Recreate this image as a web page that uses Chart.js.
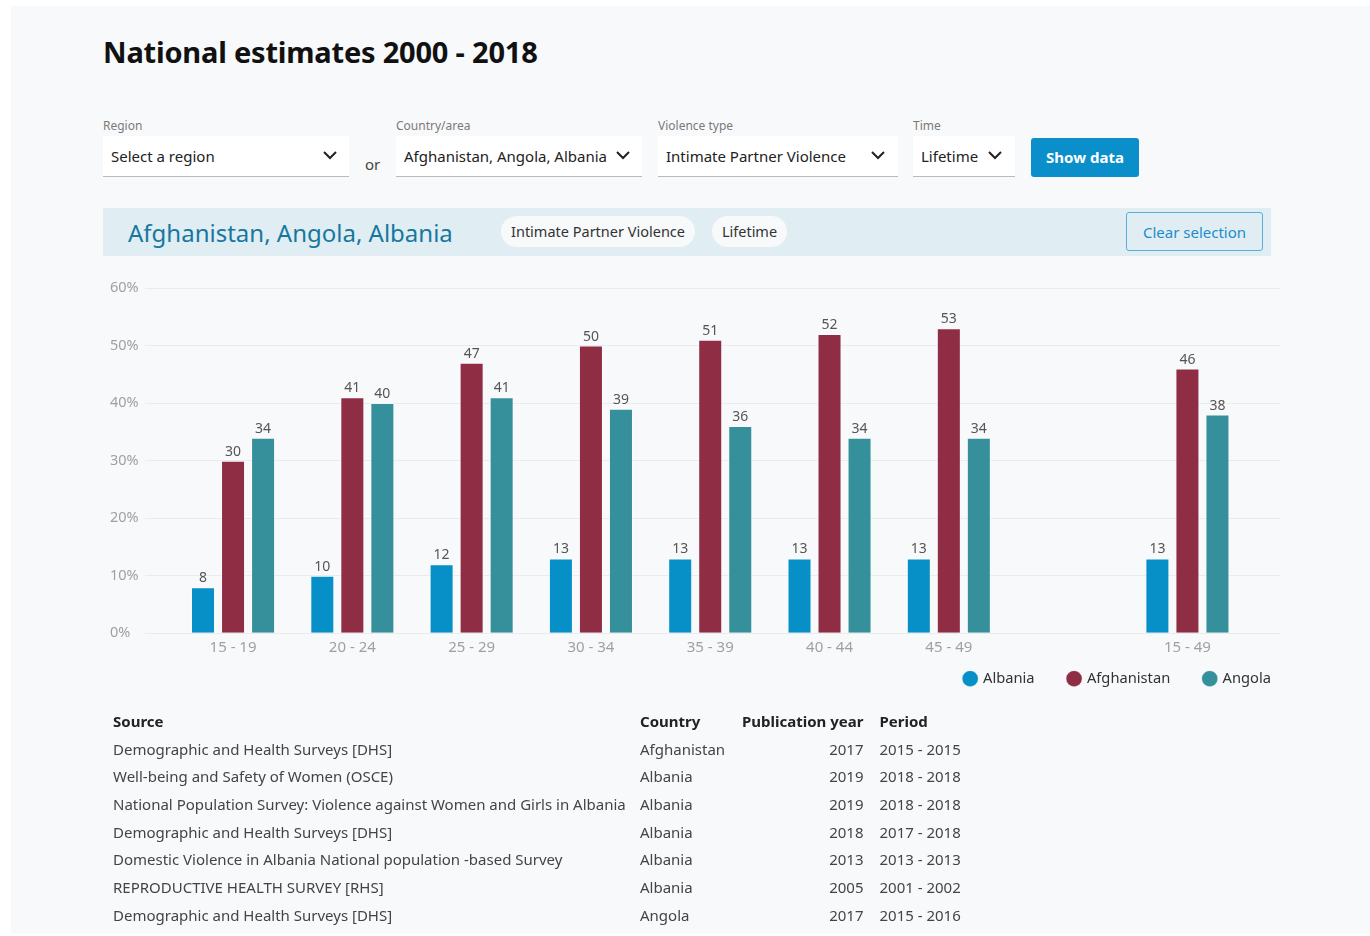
<!DOCTYPE html>
<html>
<head>
<meta charset="utf-8">
<script src="https://cdn.jsdelivr.net/npm/chart.js@4.4.0/dist/chart.umd.min.js"></script>
<style>
  html, body { margin: 0; padding: 0; background: #fff; }
  body { width: 1370px; height: 936px; position: relative; overflow: hidden; font-family: "Noto Sans", sans-serif; color: #333; }
  .card { position: absolute; left: 11px; top: 6px; right: 0; bottom: 2px; background: #f8f9fb; }
  h1 { position: absolute; left: 103px; top: 32px; margin: 0; font-size: 29px; font-weight: 700; color: #111; letter-spacing: -0.2px; }
  .lbl { position: absolute; top: 117px; font-size: 12px; color: #7a7a7a; }
  .sel { position: absolute; top: 136px; height: 41px; background: #fff; border-bottom: 1px solid #b8bcc2; font-size: 15px; color: #222; line-height: 40px; padding-left: 8px; box-sizing: border-box; }
  .sel svg { position: absolute; top: 14px; }
  .or { position: absolute; left: 365px; top: 154px; font-size: 15px; color: #444; }
  .btn { position: absolute; left: 1031px; top: 138px; width: 108px; height: 39px; background: #0a8fcb; color: #fff; font-weight: 700; font-size: 15px; line-height: 39px; text-align: center; border-radius: 3px; }
  .bar { position: absolute; left: 103px; top: 208px; width: 1168px; height: 48px; background: #e0edf3; }
  .bar .t { position: absolute; left: 25px; top: 8px; font-size: 24px; color: #17789f; }
  .pill { position: absolute; top: 8px; height: 31px; line-height: 31px; background: #f7f9fa; border-radius: 16px; font-size: 14.5px; color: #333; text-align: center; }
  .clear { position: absolute; left: 1023px; top: 4px; width: 137px; height: 39px; box-sizing: border-box; border: 1px solid #5aaedb; border-radius: 3px; color: #1e8ccb; font-size: 15px; line-height: 38px; text-align: center; }
  #wrap { position: absolute; left: 100px; top: 278px; width: 1205px; height: 434px; }
  table { position: absolute; left: 107px; top: 707px; border-collapse: collapse; font-size: 15px; color: #444; }
  th { text-align: left; font-weight: 700; color: #222; padding: 0 6px; height: 27.7px; }
  td { padding: 0 6px; height: 27.7px; white-space: nowrap; }
  td.n, th.n { text-align: right; }
  .p { padding-left: 10px; }
</style>
</head>
<body>
<div class="card"></div>
<h1>National estimates 2000 - 2018</h1>

<div class="lbl" style="left:103px">Region</div>
<div class="sel" style="left:103px;width:246px">Select a region
  <svg style="left:220px" width="14" height="10" viewBox="0 0 14 10"><path d="M1 2 L7 8 L13 2" stroke="#222" stroke-width="2" fill="none"/></svg></div>
<div class="or">or</div>
<div class="lbl" style="left:396px">Country/area</div>
<div class="sel" style="left:396px;width:246px">Afghanistan, Angola, Albania
  <svg style="left:220px" width="14" height="10" viewBox="0 0 14 10"><path d="M1 2 L7 8 L13 2" stroke="#222" stroke-width="2" fill="none"/></svg></div>
<div class="lbl" style="left:658px">Violence type</div>
<div class="sel" style="left:658px;width:240px">Intimate Partner Violence
  <svg style="left:213px" width="14" height="10" viewBox="0 0 14 10"><path d="M1 2 L7 8 L13 2" stroke="#222" stroke-width="2" fill="none"/></svg></div>
<div class="lbl" style="left:913px">Time</div>
<div class="sel" style="left:913px;width:102px">Lifetime
  <svg style="left:75px" width="14" height="10" viewBox="0 0 14 10"><path d="M1 2 L7 8 L13 2" stroke="#222" stroke-width="2" fill="none"/></svg></div>
<div class="btn">Show data</div>

<div class="bar">
  <div class="t">Afghanistan, Angola, Albania</div>
  <div class="pill" style="left:398px;width:194px">Intimate Partner Violence</div>
  <div class="pill" style="left:609px;width:75px">Lifetime</div>
  <div class="clear">Clear selection</div>
</div>

<div id="wrap"><canvas id="chart"></canvas></div>

<table id="src"></table>

<script>
// 年齢グループ (index 7 は空き)
const ageGroups = ["15 - 19", "20 - 24", "25 - 29", "30 - 34", "35 - 39", "40 - 44", "45 - 49", "", "15 - 49"];
const groupIndex = [0, 1, 2, 3, 4, 5, 6, 8];

const albania     = [8, 10, 12, 13, 13, 13, 13, 13];
const afghanistan = [30, 41, 47, 50, 51, 52, 53, 46];
const angola      = [34, 40, 41, 39, 36, 34, 34, 38];

const yTicks = [0, 10, 20, 30, 40, 50, 60];

// 出典テーブル
const sources = [
  "Demographic and Health Surveys [DHS]",
  "Well-being and Safety of Women (OSCE)",
  "National Population Survey: Violence against Women and Girls in Albania",
  "Demographic and Health Surveys [DHS]",
  "Domestic Violence in Albania National population -based Survey",
  "REPRODUCTIVE HEALTH SURVEY [RHS]",
  "Demographic and Health Surveys [DHS]"
];
const countries = ["Afghanistan", "Albania", "Albania", "Albania", "Albania", "Albania", "Angola"];
const pubYears = [2017, 2019, 2019, 2018, 2013, 2005, 2017];
const periods = ["2015 - 2015", "2018 - 2018", "2018 - 2018", "2017 - 2018", "2013 - 2013", "2001 - 2002", "2015 - 2016"];

const tbl = document.getElementById("src");
let html = '<tr><th style="width:515px">Source</th><th style="width:90px">Country</th><th class="n">Publication year</th><th class="p">Period</th></tr>';
for (let i = 0; i < sources.length; i++) {
  html += `<tr><td>${sources[i]}</td><td>${countries[i]}</td><td class="n">${pubYears[i]}</td><td class="p">${periods[i]}</td></tr>`;
}
tbl.innerHTML = html;

function toPoints(arr) {
  return arr.map((v, i) => ({ x: groupIndex[i], y: v }));
}

// 棒の上に数値を表示
const valueLabels = {
  id: "valueLabels",
  afterDatasetsDraw(chart) {
    const ctx = chart.ctx;
    ctx.save();
    ctx.font = '14px "Noto Sans"';
    ctx.fillStyle = "#555";
    ctx.textAlign = "center";
    ctx.textBaseline = "bottom";
    chart.data.datasets.forEach((ds, di) => {
      chart.getDatasetMeta(di).data.forEach((bar, i) => {
        ctx.fillText(String(ds.data[i].y), bar.x, bar.y - 2);
      });
    });
    ctx.restore();
  }
};

// 凡例を軸ラベルの近くへ持ち上げる
const legendShift = {
  id: "legendShift",
  afterLayout(chart) {
    if (chart.legend) {
      chart.legend.top -= 16;
      chart.legend.bottom -= 16;
    }
  }
};

const ctx = document.getElementById("chart").getContext("2d");
const chart = new Chart(ctx, {
  type: "bar",
  data: {
    datasets: [{
      label: "Albania",
      data: toPoints(albania),
      backgroundColor: "#078fc8",
      borderColor: "rgba(255,255,255,0.35)",
      borderWidth: 1
    }, {
      label: "Afghanistan",
      data: toPoints(afghanistan),
      backgroundColor: "#8e2d43",
      borderColor: "rgba(255,255,255,0.35)",
      borderWidth: 1
    }, {
      label: "Angola",
      data: toPoints(angola),
      backgroundColor: "#35909c",
      borderColor: "rgba(255,255,255,0.35)",
      borderWidth: 1
    }]
  },
  options: {
    responsive: true,
    maintainAspectRatio: false,
    animation: false,
    layout: { padding: { left: 10, right: 0, top: 10, bottom: 0 } },
    datasets: { bar: { barPercentage: 0.8, categoryPercentage: 0.755 } },
    plugins: {
      tooltip: { enabled: false },
      legend: {
        position: "bottom",
        align: "end",
        labels: {
          usePointStyle: true,
          pointStyle: "circle",
          boxWidth: 11,
          boxHeight: 11.3,
          padding: 34,
          color: "#333",
          font: { family: "Noto Sans", size: 14.7 }
        }
      }
    },
    scales: {
      x: {
        type: "linear",
        offset: false,
        min: -0.738,
        max: 8.776,
        grid: { display: false },
        border: { display: false },
        ticks: {
          stepSize: 1,
          includeBounds: false,
          autoSkip: false,
          maxRotation: 0,
          color: "#a0a0a0",
          padding: -3,
          font: { family: "Noto Sans", size: 15 },
          callback: (v) => Number.isInteger(v) ? (ageGroups[v] || "") : ""
        }
      },
      y: {
        min: 0,
        max: 60,
        afterFit: (s) => { s.width = 35; },
        afterBuildTicks: (s) => { s.ticks = yTicks.map(v => ({ value: v })); },
        grid: { color: "#e9ebee", drawTicks: false },
        border: { display: false },
        ticks: {
          crossAlign: "far",
          padding: 0,
          color: "#a0a0a0",
          font: { family: "Noto Sans", size: 14.5 },
          callback: (v) => v + "%"
        }
      },
      // 右側の余白用（凡例を右端に寄せるため）
      yPad: {
        position: "right",
        display: true,
        afterFit: (s) => { s.width = 25; },
        grid: { display: false, drawTicks: false },
        border: { display: false },
        ticks: { display: false }
      }
    }
  },
  plugins: [valueLabels, legendShift]
});
</script>
</body>
</html>
